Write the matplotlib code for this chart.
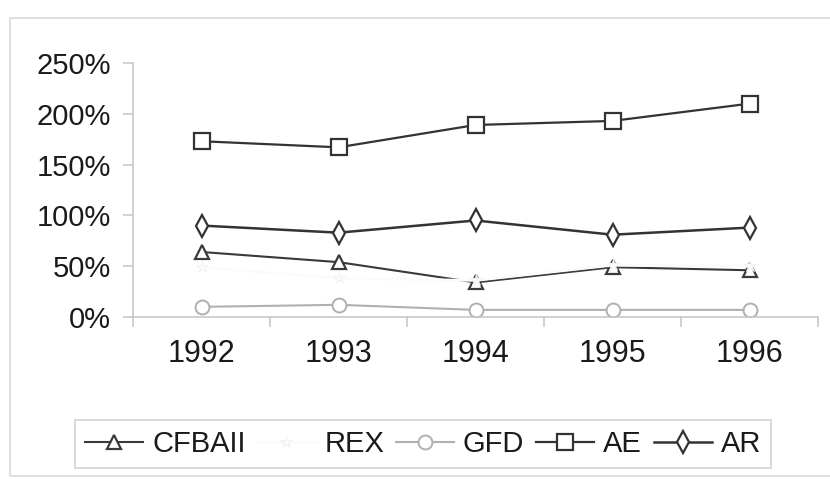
import numpy as np
import matplotlib.pyplot as plt
from matplotlib.patches import Rectangle
from matplotlib.ticker import FixedLocator, PercentFormatter

years = ["1992", "1993", "1994", "1995", "1996"]
cfbaii = [64, 54, 34, 49, 46]
rex = [49, 38, 36, 51, 50]
gfd = [10, 12, 7, 7, 7]
ae = [173, 167, 189, 193, 210]
ar = [90, 83, 95, 81, 88]

plt.rcParams['font.family'] = ['Liberation Sans', 'DejaVu Sans']

fig = plt.figure(figsize=(8.3, 4.79), dpi=100)
fig.patches.append(Rectangle((10 / 830, 3 / 479), 1.0, (476 - 18) / 479,
                             transform=fig.transFigure, fill=False,
                             edgecolor='#d8d8d8', linewidth=1.2))

ax = fig.add_axes([133 / 830, 1 - 317 / 479, 685 / 830, 254 / 479])
x = np.arange(len(years))

ax.plot(x, cfbaii, color='#3a3a3a', lw=1.5, marker='^', ms=10,
        mfc='white', mec='#3a3a3a', mew=1.6, label='CFBAII')
# REX is drawn almost white in the original, it only shows as gaps
ax.plot(x, rex, color='#fbfbfb', lw=2.0, marker='*', ms=9,
        mfc='#fbfbfb', mec='#f3f3f3', mew=0.8, label='REX')
ax.plot(x, gfd, color='#b0b0b0', lw=1.5, marker='o', ms=10,
        mfc='white', mec='#b0b0b0', mew=1.4, label='GFD')
ax.plot(x, ae, color='#333333', lw=1.6, marker='s', ms=11,
        mfc='white', mec='#333333', mew=1.6, label='AE')
ax.plot(x, ar, color='#333333', lw=1.8, marker='d', ms=11,
        mfc='white', mec='#333333', mew=1.6, label='AR')

ax.set_xlim(-0.5, 4.5)
ax.set_ylim(0, 250)
ax.set_yticks([0, 50, 100, 150, 200, 250])
ax.yaxis.set_major_formatter(PercentFormatter(decimals=0))
ax.set_xticks(x)
ax.set_xticklabels(years)
ax.xaxis.set_minor_locator(FixedLocator(np.arange(-0.5, 5, 1)))

for s in ['top', 'right']:
    ax.spines[s].set_visible(False)
for s in ['left', 'bottom']:
    ax.spines[s].set_color('#c8c8c8')
    ax.spines[s].set_linewidth(1.2)

ax.tick_params(axis='x', which='major', length=0, pad=16, labelsize=22,
               labelcolor='#1a1a1a')
ax.tick_params(axis='x', which='minor', length=7, color='#c8c8c8', width=1.2)
ax.tick_params(axis='y', length=7, color='#c8c8c8', width=1.2, pad=9,
               labelsize=21, labelcolor='#1a1a1a')

leg = fig.legend(loc='center', bbox_to_anchor=(423 / 830, 1 - 444 / 479),
                 ncol=5, frameon=True, fontsize=21, handlelength=2.0,
                 handletextpad=0.3, columnspacing=0.4, borderpad=0.35,
                 fancybox=False, edgecolor='#c8c8c8')
leg.get_frame().set_linewidth(1.2)
for t in leg.get_texts():
    t.set_color('#1a1a1a')

fig.savefig('out.png', dpi=100)
